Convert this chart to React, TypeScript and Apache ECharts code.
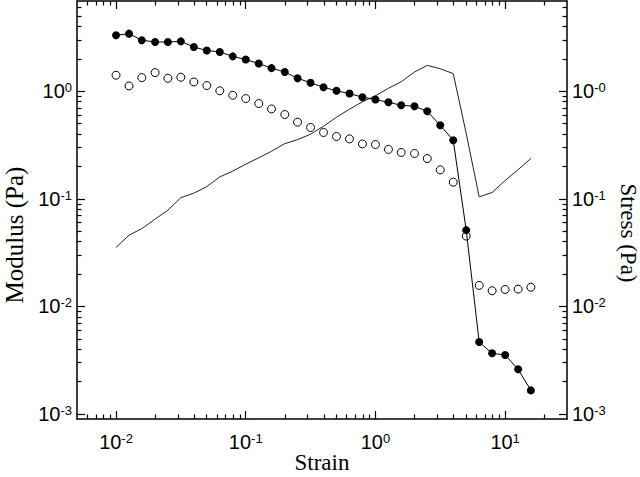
import React, { useEffect, useRef } from 'react';
import * as echarts from 'echarts';

const strain = [0.01, 0.0126, 0.0158, 0.02, 0.0251, 0.0316, 0.0398, 0.0501, 0.0631, 0.0794, 0.1, 0.126, 0.158, 0.2, 0.251, 0.316, 0.398, 0.501, 0.631, 0.794, 1, 1.26, 1.58, 2, 2.51, 3.16, 3.98, 5.01, 6.31, 7.94, 10, 12.6, 15.8];
const storageModulus = [3.31, 3.43, 2.98, 2.87, 2.87, 2.91, 2.58, 2.39, 2.32, 2.11, 1.97, 1.81, 1.64, 1.51, 1.32, 1.2, 1.09, 1.01, 0.952, 0.88, 0.837, 0.79, 0.741, 0.726, 0.652, 0.483, 0.351, 0.0512, 0.00467, 0.00367, 0.00354, 0.00261, 0.00166];
const lossModulus = [1.41, 1.12, 1.34, 1.49, 1.32, 1.35, 1.22, 1.13, 1.01, 0.918, 0.855, 0.769, 0.685, 0.608, 0.516, 0.461, 0.414, 0.38, 0.361, 0.324, 0.32, 0.288, 0.27, 0.264, 0.237, 0.186, 0.143, 0.0451, 0.0157, 0.014, 0.0144, 0.0145, 0.0151];
const stress = [0.0354, 0.046, 0.0529, 0.0648, 0.0785, 0.1026, 0.113, 0.13, 0.16, 0.181, 0.21, 0.241, 0.277, 0.326, 0.355, 0.399, 0.473, 0.574, 0.681, 0.799, 0.908, 1.066, 1.225, 1.51, 1.74, 1.62, 1.46, 0.407, 0.1044, 0.1146, 0.148, 0.187, 0.237];

const strainMajorTicks = [0.01, 0.1, 1, 10];
const strainMinorTicks = [0.006, 0.007, 0.008, 0.009, 0.02, 0.03, 0.04, 0.05, 0.06, 0.07, 0.08, 0.09, 0.2, 0.3, 0.4, 0.5, 0.6, 0.7, 0.8, 0.9, 2, 3, 4, 5, 6, 7, 8, 9, 20];
const modulusMajorTicks = [0.001, 0.01, 0.1, 1];
const modulusMinorTicks = [0.002, 0.003, 0.004, 0.005, 0.006, 0.007, 0.008, 0.009, 0.02, 0.03, 0.04, 0.05, 0.06, 0.07, 0.08, 0.09, 0.2, 0.3, 0.4, 0.5, 0.6, 0.7, 0.8, 0.9, 2, 3, 4, 5, 6];

const X_MIN = 0.005;
const X_MAX = 30;
const Y_MIN = 0.0009;
const Y_MAX = 6.9;

export default function App() {
  const ref = useRef<HTMLDivElement>(null);
  useEffect(() => {
    document.body.style.margin = '0';
    if (!ref.current) return;
    const chart = echarts.init(ref.current, undefined, { renderer: 'svg' });

    const rich = {
      b: { fontSize: 20, fontFamily: 'Liberation Sans', color: '#000' },
      s: { fontSize: 13, fontFamily: 'Liberation Sans', color: '#000', verticalAlign: 'top' },
    };
    const fmt = (dashZero: boolean) => (v: number) => {
      const e = Math.round(Math.log10(v));
      const s = e === 0 && dashZero ? '-0' : String(e);
      return `{b|10}{s|${s}}`;
    };
    const lineStyle = { color: '#000', width: 1.5 };
    const tickStyle = { color: '#000', width: 1.2 };

    const xBase = { type: 'log', logBase: 10, min: X_MIN, max: X_MAX, splitLine: { show: false }, splitArea: { show: false } };
    const yBase = { type: 'log', logBase: 10, min: Y_MIN, max: Y_MAX, splitLine: { show: false }, splitArea: { show: false } };

    const titleStyle = { fontFamily: 'Liberation Serif', color: '#000' };

    const option: any = {
      animation: false,
      backgroundColor: '#fff',
      grid: { left: 77, right: 73, top: 1, bottom: 58, containLabel: false, outerBoundsMode: 'none' },
      xAxis: [
        {
          ...xBase, position: 'bottom',
          axisLine: { show: true, onZero: false, lineStyle },
          axisTick: { show: true, inside: true, length: 8, customValues: strainMajorTicks, lineStyle: tickStyle },
          axisLabel: { show: true, customValues: strainMajorTicks, formatter: fmt(false), rich, margin: 13 },
          name: 'Strain', nameLocation: 'middle', nameGap: 32, nameMoveOverlap: false,
          nameTextStyle: { ...titleStyle, fontSize: 23, lineHeight: 23 },
        },
        {
          ...xBase, position: 'bottom',
          axisLine: { show: false, onZero: false },
          axisTick: { show: true, inside: true, length: 4.5, customValues: strainMinorTicks, lineStyle: tickStyle },
          axisLabel: { show: false },
        },
        {
          ...xBase, position: 'top',
          axisLine: { show: true, onZero: false, lineStyle },
          axisTick: { show: true, inside: true, length: 8, customValues: strainMajorTicks, lineStyle: tickStyle },
          axisLabel: { show: false },
        },
        {
          ...xBase, position: 'top',
          axisLine: { show: false, onZero: false },
          axisTick: { show: true, inside: true, length: 4.5, customValues: strainMinorTicks, lineStyle: tickStyle },
          axisLabel: { show: false },
        },
      ],
      yAxis: [
        {
          ...yBase, position: 'left',
          axisLine: { show: true, onZero: false, lineStyle },
          axisTick: { show: true, inside: true, length: 8, customValues: modulusMajorTicks, lineStyle: tickStyle },
          axisLabel: { show: true, customValues: modulusMajorTicks, formatter: fmt(false), rich, margin: 5 },
          name: 'Modulus (Pa)', nameLocation: 'middle', nameGap: 50,
          nameTextStyle: { ...titleStyle, fontSize: 25, lineHeight: 25, padding: [0, 50, 0, 0] },
        },
        {
          ...yBase, position: 'left',
          axisLine: { show: false, onZero: false },
          axisTick: { show: true, inside: true, length: 4.5, customValues: modulusMinorTicks, lineStyle: tickStyle },
          axisLabel: { show: false },
        },
        {
          ...yBase, position: 'right',
          axisLine: { show: true, onZero: false, lineStyle },
          axisTick: { show: true, inside: true, length: 8, customValues: modulusMajorTicks, lineStyle: tickStyle },
          axisLabel: { show: true, customValues: modulusMajorTicks, formatter: fmt(true), rich, margin: 5 },
          name: 'Stress (Pa)', nameLocation: 'middle', nameGap: 38, nameRotate: -90,
          nameTextStyle: { ...titleStyle, fontSize: 23, lineHeight: 23, padding: [0, 0, 0, 46] },
        },
        {
          ...yBase, position: 'right',
          axisLine: { show: false, onZero: false },
          axisTick: { show: true, inside: true, length: 4.5, customValues: modulusMinorTicks, lineStyle: tickStyle },
          axisLabel: { show: false },
        },
      ],
      series: [
        {
          name: 'Stress', type: 'line', xAxisIndex: 0, yAxisIndex: 2,
          data: strain.map((x, i) => [x, stress[i]]),
          symbol: 'none', showSymbol: false,
          lineStyle: { color: '#222', width: 1 },
          z: 2,
        },
        {
          name: "G''", type: 'scatter', xAxisIndex: 0, yAxisIndex: 0,
          data: strain.map((x, i) => [x, lossModulus[i]]),
          symbol: 'circle', symbolSize: 8,
          itemStyle: { color: '#fff', borderColor: '#000', borderWidth: 1, opacity: 1 },
          z: 3,
        },
        {
          name: "G'", type: 'line', xAxisIndex: 0, yAxisIndex: 0,
          data: strain.map((x, i) => [x, storageModulus[i]]),
          symbol: 'circle', symbolSize: 8, showSymbol: true,
          itemStyle: { color: '#000', borderWidth: 0 },
          lineStyle: { color: '#000', width: 1 },
          z: 4,
        },
      ],
    };
    chart.setOption(option);
    return () => chart.dispose();
  }, []);
  return <div ref={ref} style={{ width: 640, height: 477 }} />;
}
